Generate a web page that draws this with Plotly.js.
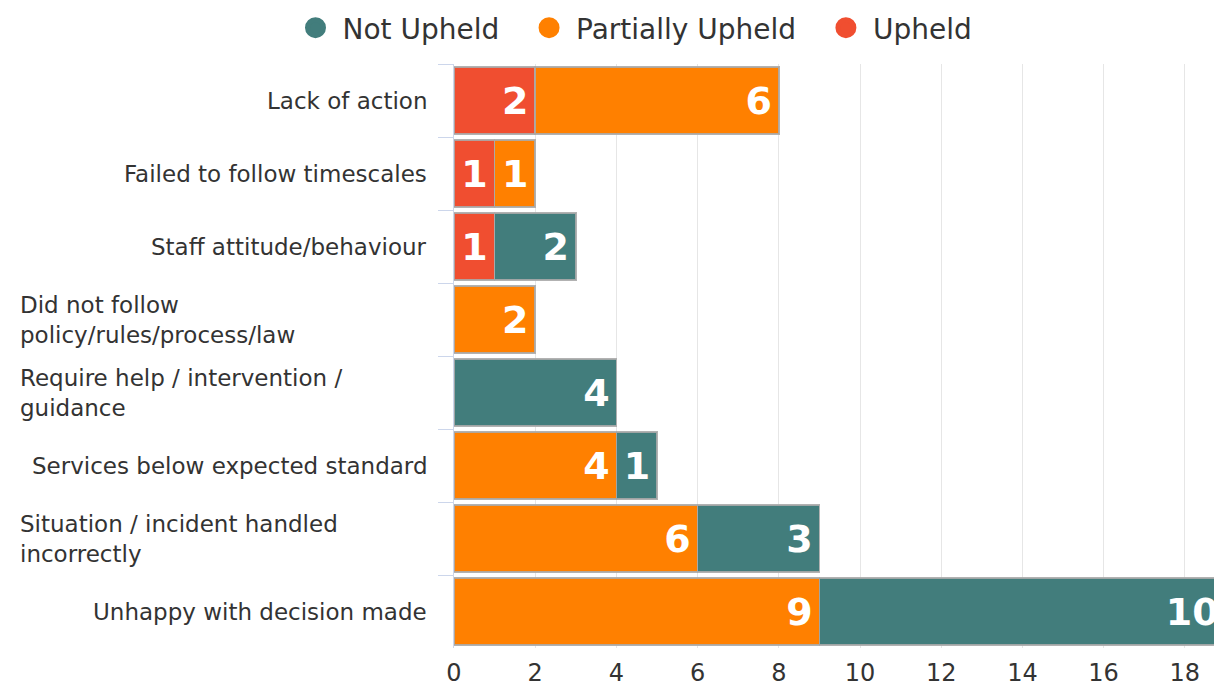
<!DOCTYPE html>
<html>
<head>
<meta charset="utf-8">
<script src="https://cdn.plot.ly/plotly-3.0.1.min.js"></script>
<style>
html,body{margin:0;padding:0;overflow:hidden;background:#fff;}
#chart{position:absolute;left:0;top:0;}
</style>
</head>
<body>
<div id="chart"></div>
<script>
const categories = [
  "Lack of action",
  "Failed to follow timescales",
  "Staff attitude/behaviour",
  "Did not follow<br>policy/rules/process/law",
  "Require help / intervention /<br>guidance",
  "Services below expected standard",
  "Situation / incident handled<br>incorrectly",
  "Unhappy with decision made"
];
const upheld        = [2, 1, 1, null, null, null, null, null];
const partially     = [6, 1, null, 2, null, 4, 6, 9];
const notUpheld     = [null, null, 2, null, 4, 1, 3, 10];
const seriesNames   = ["Not Upheld", "Partially Upheld", "Upheld"];
const seriesColors  = {"Not Upheld": "#427D7C", "Partially Upheld": "#FF8000", "Upheld": "#F04E30"};
const xTicks = [0, 2, 4, 6, 8, 10, 12, 14, 16, 18];

const FONT = "DejaVu Sans, Verdana, sans-serif";
const txt = v => v.map(d => (d === null ? "" : String(d) + "\u200A"));

function barTrace(name, vals) {
  return {
    type: "bar", orientation: "h", name: name,
    y: categories, x: vals,
    text: txt(vals), textposition: "inside", insidetextanchor: "end",
    textfont: {family: FONT, size: 38, color: "#ffffff", weight: "bold"},
    marker: {color: seriesColors[name], line: {color: "rgba(170,170,170,0.9)", width: 1.5}},
    showlegend: false, hoverinfo: "x+y"
  };
}
const traces = [
  barTrace("Upheld", upheld),
  barTrace("Partially Upheld", partially),
  barTrace("Not Upheld", notUpheld)
];
seriesNames.forEach((n, i) => traces.push({
  type: "scatter", mode: "markers",
  name: n + (i < seriesNames.length - 1 ? "\u00a0\u00a0" : ""),
  x: [null], y: [null],
  marker: {symbol: "circle", size: 16, color: seriesColors[n], line: {color: seriesColors[n], width: 5}},
  showlegend: true, hoverinfo: "skip"
}));

const annotations = categories.map(c => {
  const multi = c.indexOf("<br>") >= 0;
  return {
    xref: "paper", yref: "y", x: 0, y: c, text: c, showarrow: false,
    xanchor: multi ? "left" : "right", align: multi ? "left" : "right",
    xshift: multi ? -436 : -25, yanchor: "middle",
    font: {family: FONT, size: 23, color: "#333333"}
  };
});

const W = 1276, H = 700;
const layout = {
  width: W, height: H,
  margin: {l: 454, r: 10, t: 64, b: 52},
  paper_bgcolor: "#ffffff", plot_bgcolor: "#ffffff",
  barmode: "stack", bargap: 0.08,
  font: {family: FONT, color: "#333333"},
  xaxis: {
    range: [0, 20], tickvals: xTicks, ticktext: xTicks.map(String),
    showgrid: true, gridcolor: "#e6e6e6", gridwidth: 1,
    zeroline: false, showline: false, ticks: "",
    ticklabelstandoff: 8,
    tickfont: {family: FONT, size: 24, color: "#333333"}
  },
  yaxis: {
    type: "category", autorange: "reversed",
    showticklabels: false, ticks: "outside", tickson: "boundaries",
    ticklen: 15, tickcolor: "#ccd6eb", tickwidth: 1,
    showline: true, linecolor: "#ccd6eb", linewidth: 1,
    showgrid: false, zeroline: false
  },
  legend: {
    orientation: "h", xref: "container", x: 633 / W, xanchor: "center",
    yref: "container", y: 1 - 28 / H, yanchor: "middle",
    itemwidth: 44,
    font: {family: FONT, size: 28, color: "#333333"},
    traceorder: "normal", bgcolor: "rgba(0,0,0,0)"
  },
  annotations: annotations,
  showlegend: true
};

Plotly.newPlot("chart", traces, layout, {displayModeBar: false, responsive: false});
</script>
</body>
</html>
